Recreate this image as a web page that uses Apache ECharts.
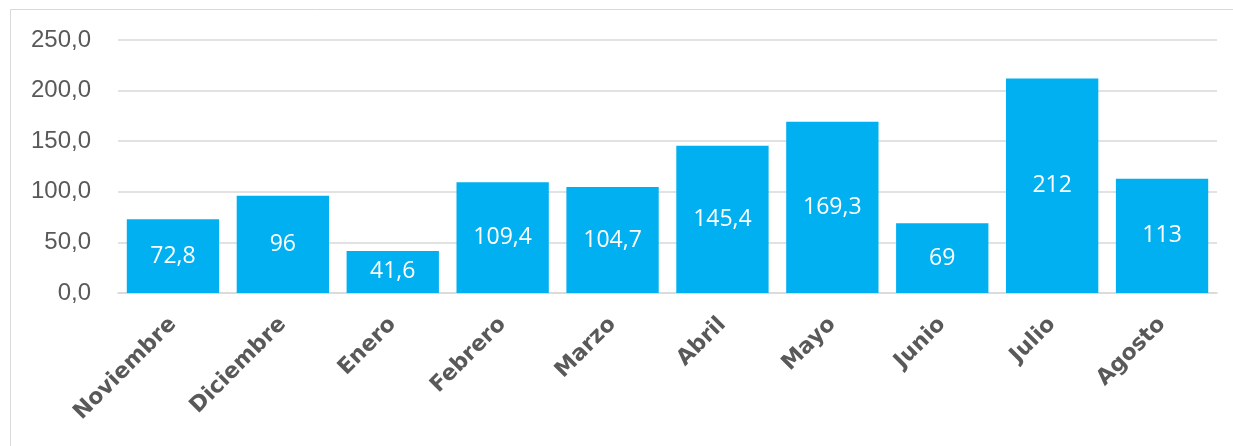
<!DOCTYPE html>
<html><head><meta charset="utf-8">
<script src="https://cdn.jsdelivr.net/npm/echarts@6/dist/echarts.min.js"></script>
<style>html,body{margin:0;padding:0;background:#fff}#c{width:1233px;height:446px}</style>
</head><body><div id="c"></div>
<script>
const categories = ['Noviembre','Diciembre','Enero','Febrero','Marzo','Abril','Mayo','Junio','Julio','Agosto'];
const values = [72.8, 96, 41.6, 109.4, 104.7, 145.4, 169.3, 69, 212, 113];
const yTicks = {min: 0, max: 250, interval: 50};

const chart = echarts.init(document.getElementById('c'), null, {renderer: 'canvas'});
chart.setOption({
  animation: false,
  graphic: [{type: 'rect', shape: {x: 10.5, y: 9.5, width: 1240, height: 460}, style: {fill: 'none', stroke: '#d9d9d9', lineWidth: 1}, silent: true}],
  grid: {left: 118, right: 16, top: 40, height: 253, containLabel: false},
  xAxis: {
    type: 'category', data: categories,
    axisLine: {show: true, lineStyle: {color: '#d9d9d9', width: 1.5}},
    axisTick: {show: false},
    axisLabel: {rotate: 45, color: '#595959', fontFamily: '"DejaVu Sans", sans-serif', fontWeight: 'bold', fontSize: 22, margin: 28, interval: 0}
  },
  yAxis: {
    type: 'value', min: yTicks.min, max: yTicks.max, interval: yTicks.interval,
    axisLine: {show: false}, axisTick: {show: false},
    splitLine: {lineStyle: {color: '#d9d9d9', width: 1.5}},
    axisLabel: {color: '#595959', fontFamily: '"Liberation Sans", Arial, sans-serif', fontSize: 24, margin: 27,
      formatter: v => v.toFixed(1).replace('.', ',')}
  },
  series: [{
    type: 'bar', data: values, barCategoryGap: '16%',
    itemStyle: {color: '#00B0F0'},
    label: {show: true, position: 'inside', color: '#fff', fontFamily: '"Open Sans", sans-serif', fontSize: 23,
      formatter: p => String(p.value).replace('.', ',')}
  }]
});
</script></body></html>
